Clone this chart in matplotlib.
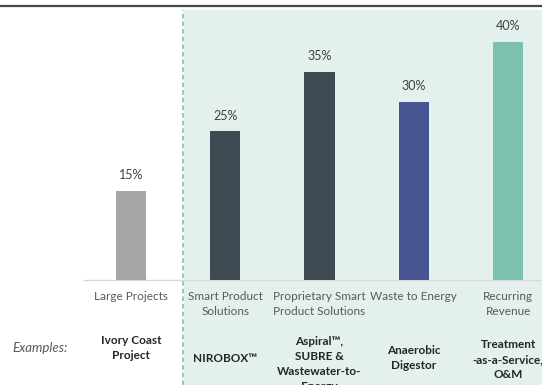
import matplotlib.pyplot as plt
from matplotlib.transforms import blended_transform_factory

# данные
categories = ['Large Projects', 'Smart Product\nSolutions', 'Proprietary Smart\nProduct Solutions',
              'Waste to Energy', 'Recurring\nRevenue']
values = [15, 25, 35, 30, 40]
examples = ['Ivory Coast\nProject', 'NIROBOX™', 'Aspiral™,\nSUBRE &\nWastewater-to-\nEnergy',
            'Anaerobic\nDigestor', 'Treatment\n-as-a-Service,\nO&M']

colors = ['#a6a6a6', '#3f4b53', '#3f4b53', '#465591', '#7cc0ad']
example_y = [0.096, 0.070, 0.055, 0.070, 0.066]  # центры подписей примеров (доля фигуры)

plt.rcParams['font.family'] = ['Lato', 'DejaVu Sans']

fig = plt.figure(figsize=(5.42, 3.85), dpi=100)
ax = fig.add_axes([0, 0, 1, 1])
ax.set_xlim(-1.39, 4.36)
ax.set_ylim(-17.65, 47.06)
ax.axis('off')

# зелёная зона и пунктир
ax.axvspan(0.56, 4.36, ymin=0, ymax=0.975, color='#e3f0ed', zorder=0)
ax.axvline(0.552, ymin=0, ymax=0.975, color='#6dbfa8', lw=1.1, ls=(0, (3, 2)), zorder=1)
ax.axhline(47.06 - 6.5 / 5.95, color='#3e4a4f', lw=1.6)
ax.hlines(0, -0.51, 4.36, color='#d9d9d9', lw=1)

x = range(len(values))
bars = ax.bar(x, values, width=0.32, color=colors, zorder=2)
for b, v in zip(bars, values):
    ax.text(b.get_x() + b.get_width() / 2, v + 1.6, f'{v}%', ha='center', va='bottom',
            fontsize=9, color='#404040')

tr = blended_transform_factory(ax.transData, fig.transFigure)
for i, lab in enumerate(categories):
    ax.text(i, 0.244, lab, transform=tr, ha='center', va='top', fontsize=8.5,
            color='#595959', linespacing=1.45)
for i, (lab, yy) in enumerate(zip(examples, example_y)):
    ax.text(i, yy, lab, transform=tr, ha='center', va='center', fontsize=8.5,
            color='#262626', fontweight='bold', linespacing=1.45)
fig.text(40 / 542, 1 - 347.6 / 385, 'Examples:', ha='center', va='center', fontsize=9.5,
         color='#595959', style='italic')

fig.savefig('out.png', dpi=100)
